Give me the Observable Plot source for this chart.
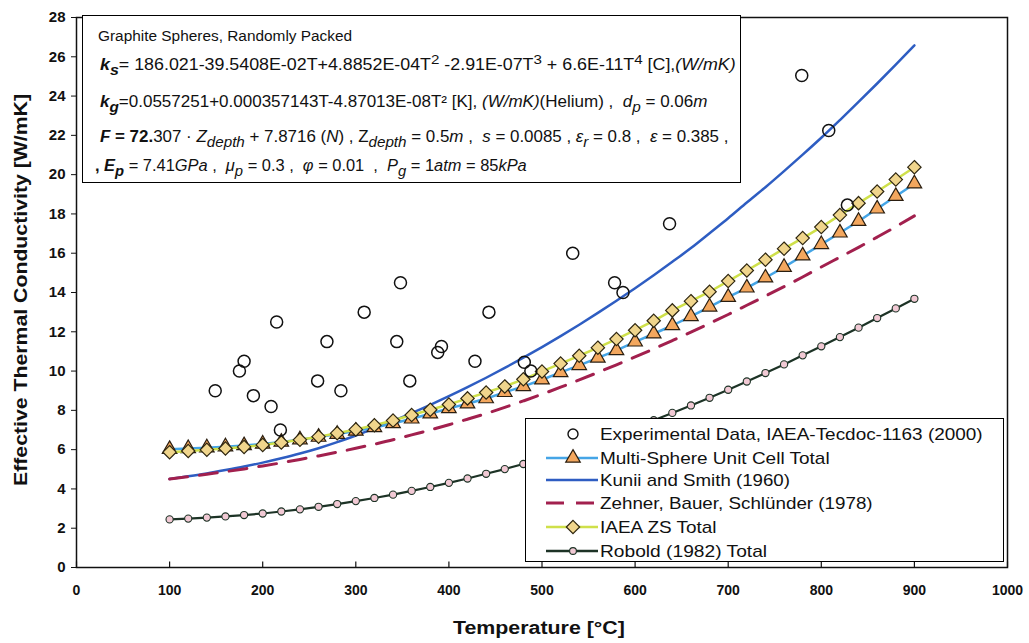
<!DOCTYPE html>
<html><head><meta charset="utf-8">
<script src="https://cdn.jsdelivr.net/npm/d3@7"></script>
<script src="https://cdn.jsdelivr.net/npm/@observablehq/plot@0.6"></script>
<style>
body{margin:0;background:#fff;font-family:"Liberation Sans",Arial,sans-serif;color:#111}
#wrap{position:relative;width:1029px;height:643px;overflow:hidden}
#wrap svg{position:absolute;left:0;top:0}
#anno{position:absolute;left:82px;top:15px;width:659px;height:168px;background:#fff;border:1.5px solid #000;box-sizing:border-box}
.fit{position:absolute;white-space:nowrap;transform-origin:0 50%;line-height:1}
.al{font-size:16px}
.al sub{font-size:0.9em;vertical-align:-0.35em;line-height:0}
.al sup{font-size:0.85em;vertical-align:0.45em;line-height:0}
#legend{position:absolute;left:525px;top:418px;width:479px;height:144px;background:#fff;border:1.5px solid #000;box-sizing:border-box}
.lt{font-size:17px}
.lsym{position:absolute}
.title{font-weight:bold;font-size:18px}
</style></head><body>
<div id="wrap"></div>
<script>
// ---- data ----
const xTicks = [0,100,200,300,400,500,600,700,800,900,1000];
const yTicks = [0,2,4,6,8,10,12,14,16,18,20,22,24,26,28];

const expT = [149,175,180,190,209,215,219,259,269,284,309,344,348,358,388,392,428,443,481,488,533,578,587,637,779,808,828];
const expK = [9.0,10.0,10.5,8.75,8.2,12.5,7.0,9.5,11.5,9.0,13.0,11.5,14.5,9.5,10.95,11.25,10.5,13.0,10.45,10.0,16.0,14.5,14.0,17.5,25.05,22.25,18.45];

const temps = [100,120,140,160,180,200,220,240,260,280,300,320,340,360,380,400,420,440,460,480,500,520,540,560,580,600,620,640,660,680,700,720,740,760,780,800,820,840,860,880,900];

const multiSphere = [6.02,6.06,6.10,6.15,6.21,6.29,6.39,6.51,6.64,6.79,6.95,7.13,7.33,7.57,7.83,8.10,8.34,8.60,8.92,9.22,9.56,9.93,10.29,10.67,11.05,11.49,11.90,12.32,12.78,13.27,13.76,14.24,14.75,15.29,15.87,16.45,17.04,17.63,18.26,18.90,19.54];
const iaeaZS = [5.87,5.93,5.99,6.06,6.14,6.24,6.36,6.50,6.66,6.84,7.03,7.24,7.48,7.76,8.03,8.30,8.61,8.91,9.22,9.58,9.98,10.38,10.78,11.19,11.63,12.08,12.56,13.09,13.56,14.04,14.58,15.12,15.67,16.23,16.77,17.33,17.94,18.55,19.14,19.75,20.38];
const kuniiSmith = [4.50,4.64,4.79,4.96,5.14,5.34,5.56,5.80,6.07,6.38,6.72,7.08,7.46,7.86,8.28,8.72,9.18,9.66,10.16,10.68,11.22,11.78,12.36,12.96,13.58,14.22,14.88,15.56,16.26,17.02,17.78,18.58,19.36,20.18,21.02,21.88,22.78,23.70,24.64,25.60,26.58];
const zehner = [4.50,4.62,4.75,4.88,5.02,5.17,5.33,5.50,5.68,5.87,6.07,6.28,6.50,6.75,7.00,7.27,7.55,7.84,8.15,8.48,8.82,9.18,9.55,9.93,10.32,10.72,11.13,11.55,11.98,12.43,12.88,13.35,13.82,14.30,14.79,15.30,15.80,16.30,16.82,17.35,17.90];
const robold = [2.45,2.49,2.54,2.60,2.67,2.75,2.85,2.96,3.09,3.23,3.38,3.54,3.71,3.90,4.10,4.31,4.53,4.77,5.01,5.27,5.56,5.85,6.15,6.47,6.80,7.15,7.50,7.87,8.25,8.64,9.05,9.47,9.90,10.34,10.80,11.26,11.73,12.21,12.70,13.19,13.68];

const seriesNames = ["Experimental Data, IAEA-Tecdoc-1163 (2000)","Multi-Sphere Unit Cell Total","Kunii and Smith (1960)","Zehner, Bauer, Schlünder (1978)","IAEA ZS Total","Robold (1982) Total"];
const xTitle = "Temperature [°C]";
const yTitle = "Effective Thermal Conductivity [W/mK]";

// ---- styles ----
const C = {ms:"#45a5e6", msFill:"#f3a75e", zs:"#cfe04a", zsFill:"#f0d58c", ks:"#2e5dc2", zb:"#a2204e", rb:"#1d3326", rbFill:"#f1c9d4"};

const tbl = arr => temps.map((t,i)=>({t, v:arr[i]}));
const exp = expT.map((t,i)=>({t, v:expK[i]}));

const chart = Plot.plot({
  width:1029, height:643, marginLeft:76, marginRight:22, marginTop:17, marginBottom:76,
  style:{fontFamily:"'Liberation Sans', Arial, sans-serif", background:"transparent", color:"#111"},
  x:{domain:[0,1000]}, y:{domain:[0,28]},
  marks:[
    Plot.line(tbl(kuniiSmith),{x:"t",y:"v",stroke:C.ks,strokeWidth:2.5,curve:"monotone-x"}),
    Plot.line(tbl(zehner),{x:"t",y:"v",stroke:C.zb,strokeWidth:3,strokeDasharray:"18,12",curve:"monotone-x"}),
    Plot.line(tbl(robold),{x:"t",y:"v",stroke:C.rb,strokeWidth:2.2}),
    Plot.dot(tbl(robold),{x:"t",y:"v",r:3.6,fill:C.rbFill,stroke:C.rb,strokeWidth:1.1}),
    Plot.line(tbl(multiSphere),{x:"t",y:"v",stroke:C.ms,strokeWidth:2.5}),
    Plot.dot(tbl(multiSphere),{x:"t",y:"v",symbol:"triangle",r:5.4,fill:C.msFill,stroke:"#2a1e10",strokeWidth:1.2}),
    Plot.line(tbl(iaeaZS),{x:"t",y:"v",stroke:C.zs,strokeWidth:2.5}),
    Plot.dot(tbl(iaeaZS),{x:"t",y:"v",symbol:"diamond2",r:6,fill:C.zsFill,stroke:"#2e2610",strokeWidth:1.2}),
    Plot.dot(exp,{x:"t",y:"v",r:6,fill:"none",stroke:"#111",strokeWidth:1.5}),
    Plot.frame({stroke:"#111",strokeWidth:1.5}),
    Plot.ruleX(xTicks,{x:d=>d,y1:0,y2:0.28,stroke:"#111",strokeWidth:1.2}),
    Plot.axisX(xTicks,{tickSize:0,tickPadding:18,fontSize:14,fontWeight:"bold",label:null,tickFormat:d=>String(d)}),
    Plot.axisY(yTicks,{tickSize:5,tickPadding:6,fontSize:15,fontWeight:"bold",label:null,tickFormat:d=>String(d)})
  ]
});
const wrap = document.getElementById("wrap");
wrap.appendChild(chart);

function fitEl(el, target){
  const w = el.offsetWidth;
  const s = target / w;
  el.style.transform = `translateY(-50%) scaleX(${s})`;
}

// ---- annotation box ----
const anno = document.createElement("div"); anno.id="anno"; wrap.appendChild(anno);
const annoLines = [
  {html:`Graphite Spheres, Randomly Packed`, x:15, y:20, w:254, fs:14},
  {html:`<b><i>k<sub>s</sub></i></b>= 186.021-39.5408E-02T+4.8852E-04T<sup>2</sup> -2.91E-07T<sup>3</sup> + 6.6E-11T<sup>4</sup> [C],<i>(W/mK)</i>`, x:17, y:49, w:636},
  {html:`<b><i>k<sub>g</sub></i></b>=0.0557251+0.000357143T-4.87013E-08T² [K], <i>(W/mK)</i>(Helium) ,&nbsp; <i>d<sub>p</sub></i> = 0.06<i>m</i>`, x:17, y:86, w:607},
  {html:`<b><i>F</i> = 72.</b>307 · <i>Z<sub>depth</sub></i> + 7.8716 (<i>N</i>) , Z<sub><i>depth</i></sub> = 0.5<i>m</i> ,&nbsp; <i>s</i> = 0.0085 , <i>ε<sub>r</sub></i> = 0.8 ,&nbsp; <i>ε</i> = 0.385 ,`, x:17, y:121, w:628},
  {html:`<b>, <i>E<sub>p</sub></i></b> = 7.41<i>GPa</i> ,&nbsp; <i>μ<sub>p</sub></i> = 0.3 ,&nbsp; <i>φ</i> = 0.01 &nbsp;,&nbsp; <i>P<sub>g</sub></i> = 1<i>atm</i> = 85<i>kPa</i>`, x:12, y:150, w:432}
];
annoLines.forEach(l=>{
  const d=document.createElement("div"); d.className="fit al"; d.innerHTML=l.html;
  d.style.left=l.x+"px"; d.style.top=l.y+"px"; if(l.fs) d.style.fontSize=l.fs+"px";
  anno.appendChild(d); fitEl(d,l.w);
});

// ---- legend ----
const leg = document.createElement("div"); leg.id="legend"; wrap.appendChild(leg);
const rows = [
  {y:15, w:383, sym:"circle"},
  {y:38.5, w:230, sym:"ms"},
  {y:61, w:190, sym:"ks"},
  {y:84, w:273, sym:"zb"},
  {y:108, w:117, sym:"zs"},
  {y:132, w:167, sym:"rb"}
];
const ns="http://www.w3.org/2000/svg";
rows.forEach((r,i)=>{
  const s=document.createElementNS(ns,"svg"); s.setAttribute("width",60); s.setAttribute("height",20);
  s.setAttribute("class","lsym"); s.style.left="16px"; s.style.top=(r.y-10)+"px";
  let inner="";
  if(r.sym==="circle") inner=`<circle cx="31" cy="10" r="5" fill="none" stroke="#111" stroke-width="1.4"/>`;
  if(r.sym==="ms") inner=`<line x1="4" x2="56" y1="10" y2="10" stroke="${C.ms}" stroke-width="2.5"/><path d="${d3.symbol(d3.symbolTriangle, 5.4*5.4*Math.PI)()}" transform="translate(31,10)" fill="${C.msFill}" stroke="#2a1e10" stroke-width="1.2"/>`;
  if(r.sym==="ks") inner=`<line x1="4" x2="56" y1="10" y2="10" stroke="${C.ks}" stroke-width="2.5"/>`;
  if(r.sym==="zb") inner=`<line x1="4" x2="56" y1="10" y2="10" stroke="${C.zb}" stroke-width="3" stroke-dasharray="18,12"/>`;
  if(r.sym==="zs") inner=`<line x1="4" x2="56" y1="10" y2="10" stroke="${C.zs}" stroke-width="2.5"/><path d="${d3.symbol(d3.symbolDiamond2, 6*6*Math.PI)()}" transform="translate(31,10)" fill="${C.zsFill}" stroke="#2e2610" stroke-width="1.2"/>`;
  if(r.sym==="rb") inner=`<line x1="4" x2="56" y1="10" y2="10" stroke="${C.rb}" stroke-width="2.5"/><circle cx="31" cy="10" r="3.4" fill="${C.rbFill}" stroke="${C.rb}" stroke-width="1.1"/>`;
  s.innerHTML=inner; leg.appendChild(s);
  const d=document.createElement("div"); d.className="fit lt"; d.textContent=seriesNames[i];
  d.style.left="74px"; d.style.top=r.y+"px"; leg.appendChild(d); fitEl(d,r.w);
});

// ---- axis titles ----
const xt=document.createElement("div"); xt.className="fit title"; xt.textContent=xTitle;
xt.style.left="453px"; xt.style.top="628px"; wrap.appendChild(xt); fitEl(xt,172);
const yt=document.createElement("div"); yt.className="fit title"; yt.textContent=yTitle;
wrap.appendChild(yt);
const yw=yt.offsetWidth, ys=392/yw;
yt.style.transformOrigin="0 0";
yt.style.left="12px"; yt.style.top="0px";
yt.style.transform=`translate(0px, ${290+196}px) rotate(-90deg) scaleX(${ys})`;
</script></body></html>
